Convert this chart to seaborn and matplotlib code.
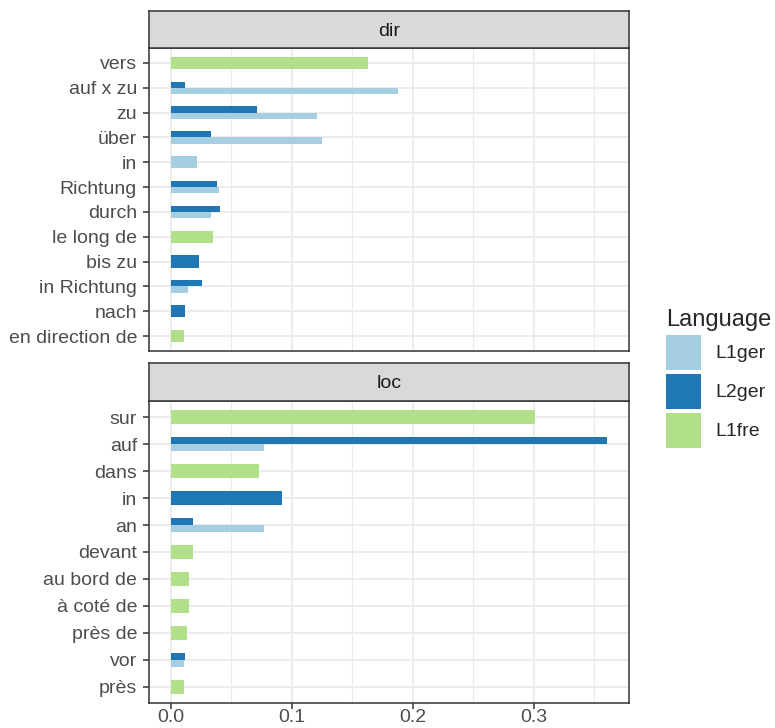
import numpy as np
import pandas as pd
import matplotlib
matplotlib.use("Agg")
import matplotlib.pyplot as plt
import seaborn as sns
from matplotlib.patches import Patch

# --- data (share of responses) ---
dir_order = ['vers', 'auf x zu', 'zu', 'über', 'in', 'Richtung', 'durch',
             'le long de', 'bis zu', 'in Richtung', 'nach', 'en direction de']
dir_prep = ['vers', 'auf x zu', 'auf x zu', 'zu', 'zu', 'über', 'über', 'in',
            'Richtung', 'Richtung', 'durch', 'durch', 'le long de', 'bis zu',
            'in Richtung', 'in Richtung', 'nach', 'en direction de']
dir_lang = ['L1fre', 'L2ger', 'L1ger', 'L2ger', 'L1ger', 'L2ger', 'L1ger', 'L1ger',
            'L2ger', 'L1ger', 'L2ger', 'L1ger', 'L1fre', 'L2ger',
            'L2ger', 'L1ger', 'L2ger', 'L1fre']
dir_value = [0.163, 0.012, 0.188, 0.071, 0.121, 0.033, 0.125, 0.022,
             0.038, 0.040, 0.041, 0.033, 0.035, 0.023,
             0.026, 0.014, 0.012, 0.011]

loc_order = ['sur', 'auf', 'dans', 'in', 'an', 'devant', 'au bord de',
             'à coté de', 'près de', 'vor', 'près']
loc_prep = ['sur', 'auf', 'auf', 'dans', 'in', 'an', 'an', 'devant', 'au bord de',
            'à coté de', 'près de', 'vor', 'vor', 'près']
loc_lang = ['L1fre', 'L2ger', 'L1ger', 'L1fre', 'L2ger', 'L2ger', 'L1ger', 'L1fre', 'L1fre',
            'L1fre', 'L1fre', 'L2ger', 'L1ger', 'L1fre']
loc_value = [0.301, 0.3606, 0.077, 0.073, 0.092, 0.018, 0.077, 0.018, 0.015,
             0.015, 0.013, 0.012, 0.011, 0.011]

languages = ['L1ger', 'L2ger', 'L1fre']
colors = ['#A6CEE3', '#1F78B4', '#B2DF8A']
palette = dict(zip(languages, colors))

x_ticks = [0.0, 0.1, 0.2, 0.3]
x_tick_labels = ['0.0', '0.1', '0.2', '0.3']

sns.set_style("white")
plt.rcParams['font.family'] = ['Liberation Sans', 'DejaVu Sans']

W, H = 775, 728
fig = plt.figure(figsize=(W / 100, H / 100), dpi=100)


def px(x0, y0, x1, y1):
    return [x0 / W, 1 - y1 / H, (x1 - x0) / W, (y1 - y0) / H]


def draw_panel(ax, df, order):
    counts = df.groupby('Preposition')['Language'].transform('count')
    singles = df[counts == 1]
    pairs = df[counts > 1]
    sns.barplot(data=singles, y='Preposition', x='Value', hue='Language',
                order=order, palette=palette, dodge=False, width=0.5,
                errorbar=None, saturation=1, linewidth=0, legend=False, ax=ax)
    sns.barplot(data=pairs, y='Preposition', x='Value', hue='Language',
                order=order, hue_order=['L2ger', 'L1ger'], palette=palette,
                dodge=True, width=0.5, errorbar=None, saturation=1,
                linewidth=0, legend=False, ax=ax)
    n = len(order)
    ax.set_ylim(n - 1 + 0.6, -0.6)
    ax.set_xlim(-0.018, 0.3786)
    ax.set_xticks(x_ticks)
    ax.set_xticks([0.05, 0.15, 0.25, 0.35], minor=True)
    ax.set_axisbelow(True)
    ax.grid(which='major', axis='both', color='#EBEBEB', lw=1.3)
    ax.grid(which='minor', axis='x', color='#EBEBEB', lw=0.8)
    ax.set_xlabel('')
    ax.set_ylabel('')
    for s in ax.spines.values():
        s.set_color('#333333')
        s.set_linewidth(1.1)
    ax.tick_params(axis='y', which='major', length=4.3, width=1.1, color='#333333',
                   labelsize=14, labelcolor='#4D4D4D', pad=4.3, left=True)
    ax.tick_params(axis='x', which='major', length=4.0, width=1.1, color='#333333',
                   labelsize=14, labelcolor='#4D4D4D', pad=0.5, bottom=True)
    ax.tick_params(axis='x', which='minor', length=0)


def draw_strip(rect, label):
    sax = fig.add_axes(rect)
    sax.set_facecolor('#D9D9D9')
    sax.set_xticks([])
    sax.set_yticks([])
    for s in sax.spines.values():
        s.set_color('#333333')
        s.set_linewidth(1.1)
    sax.text(0.5, 0.45, label, ha='center', va='center', fontsize=14,
             color='#1A1A1A', transform=sax.transAxes)


dir_df = pd.DataFrame({'Preposition': dir_prep, 'Language': dir_lang, 'Value': dir_value})
loc_df = pd.DataFrame({'Preposition': loc_prep, 'Language': loc_lang, 'Value': loc_value})

ax_dir = fig.add_axes(px(149, 48, 629, 351))
draw_panel(ax_dir, dir_df, dir_order)
ax_dir.tick_params(axis='x', which='both', bottom=False, labelbottom=False)
draw_strip(px(149, 11, 629, 48), 'dir')

ax_loc = fig.add_axes(px(149, 401, 629, 703))
draw_panel(ax_loc, loc_df, loc_order)
ax_loc.set_xticklabels(x_tick_labels)
draw_strip(px(149, 363, 629, 401), 'loc')

handles = [Patch(facecolor=palette[l], edgecolor='none', label=l) for l in languages]
fig.legend(handles=handles, title='Language', loc='upper left',
           bbox_to_anchor=(666 / W, 1 - 309 / H), frameon=False, fontsize=14,
           title_fontsize=17, handlelength=1.8, handleheight=2.39,
           handletextpad=0.75, labelspacing=0.2, borderpad=0, borderaxespad=0,
           alignment='left')

fig.savefig('out.png', dpi=100)
